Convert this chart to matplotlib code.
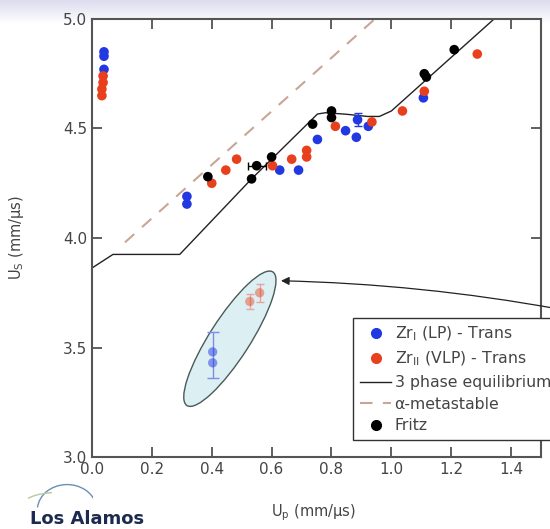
import numpy as np
import matplotlib
matplotlib.use("Agg")
from matplotlib import pyplot as plt
from matplotlib.patches import Ellipse, Arc
from matplotlib.lines import Line2D

# Zr I (LP) - transmitted
blue_x = [0.04, 0.04, 0.04, 0.317, 0.317, 0.627, 0.69, 0.753, 0.847, 0.883, 0.887, 0.923, 1.107]
blue_y = [4.85, 4.83, 4.77, 4.19, 4.155, 4.31, 4.31, 4.45, 4.49, 4.46, 4.54, 4.51, 4.64]

# Zr II (VLP) - transmitted
red_x = [0.037, 0.037, 0.033, 0.033, 0.40, 0.447, 0.483, 0.603, 0.667, 0.717, 0.717, 0.813, 0.935, 1.037, 1.11, 1.287]
red_y = [4.74, 4.71, 4.68, 4.65, 4.25, 4.31, 4.36, 4.33, 4.36, 4.40, 4.37, 4.51, 4.53, 4.58, 4.67, 4.84]

# Fritz
black_x = [0.387, 0.533, 0.55, 0.60, 0.737, 0.80, 0.80, 1.11, 1.117, 1.21]
black_y = [4.28, 4.27, 4.33, 4.37, 4.52, 4.58, 4.55, 4.75, 4.735, 4.86]

# circled (faded) points
circ_blue_x = [0.403, 0.403]
circ_blue_y = [3.48, 3.43]
circ_red_x = [0.527, 0.56]
circ_red_y = [3.71, 3.75]

# 3 phase equilibrium curve
eq_x = [0.0, 0.07, 0.293, 0.533, 0.753, 0.78, 0.85, 0.92, 0.96, 1.0, 1.343]
eq_y = [3.863, 3.925, 3.925, 4.27, 4.566, 4.572, 4.565, 4.555, 4.555, 4.58, 5.0]

# alpha-metastable
meta_x = [0.11, 0.945]
meta_y = [3.98, 5.0]

blue = "#2238e0"
red = "#e8401c"

fig = plt.figure(figsize=(5.5, 5.29), dpi=100)

# light banner at the top of the slide
bg = fig.add_axes([0, 0.955, 1, 0.045], zorder=-5)
grad = np.linspace(0, 1, 50).reshape(-1, 1)
bg.imshow(grad, aspect="auto", cmap=matplotlib.colors.LinearSegmentedColormap.from_list(
    "b", ["#ffffff", "#dcdcee"]), origin="lower", extent=[0, 1, 0, 1])
bg.axis("off")

# faint logo swoosh
logo = fig.add_axes([0.05, 0.03, 0.12, 0.06], zorder=-4)
logo.add_patch(Arc((0.6, 0.1), 0.9, 1.6, theta1=20, theta2=170, color="#6a8fb5", lw=1.0))
logo.add_patch(Arc((0.45, 0.2), 1.1, 0.9, theta1=100, theta2=200, color="#b8c8a0", lw=1.0))
logo.set_xlim(0, 1)
logo.set_ylim(0, 1)
logo.axis("off")

ax = fig.add_axes([0.1673, 0.1361, 0.8164, 0.828])

ax.plot(eq_x, eq_y, color="#222222", lw=1.0, zorder=2)
ax.plot(meta_x, meta_y, color="#c9a596", lw=1.5, dashes=(6, 5), zorder=2)

ell = Ellipse((0.307, 0.27), 0.36, 0.09, angle=58, transform=ax.transAxes,
              facecolor="#dcf0f3", edgecolor="#4a5a58", lw=1.0, zorder=1)
ax.add_patch(ell)

ax.errorbar([0.403], [3.465], yerr=[0.105], fmt="none", ecolor="#7d8ae8", elinewidth=1, capsize=4, zorder=3)
ax.errorbar(circ_red_x, circ_red_y, yerr=[0.035, 0.04], fmt="none", ecolor="#eda0a0", elinewidth=1, capsize=3, zorder=3)
ax.scatter(circ_blue_x, circ_blue_y, s=45, color=blue, alpha=0.5, edgecolors="none", zorder=4)
ax.scatter(circ_red_x, circ_red_y, s=45, color=red, alpha=0.45, edgecolors="none", zorder=4)

ax.errorbar([0.887], [4.54], yerr=[0.03], fmt="none", ecolor=blue, elinewidth=1, capsize=3, zorder=3)
ax.errorbar([0.55], [4.33], xerr=[0.03], fmt="none", ecolor="black", elinewidth=1, capsize=3, zorder=3)

ax.scatter(blue_x, blue_y, s=48, color=blue, edgecolors="none", zorder=5)
ax.scatter(red_x, red_y, s=48, color=red, edgecolors="none", zorder=6)
ax.scatter(black_x, black_y, s=48, color="black", edgecolors="none", zorder=7)

ax.annotate("", xy=(0.622, 3.805), xycoords="data",
            xytext=(1.02, 0.415), textcoords="figure fraction",
            arrowprops=dict(arrowstyle="-|>", color="#222222", lw=0.9,
                            mutation_scale=12, connectionstyle="arc3,rad=0.04"),
            annotation_clip=False, zorder=8)

ax.set_xlim(0, 1.5)
ax.set_ylim(3.0, 5.0)
ax.set_xticks([0.0, 0.2, 0.4, 0.6, 0.8, 1.0, 1.2, 1.4])
ax.set_yticks([3.0, 3.5, 4.0, 4.5, 5.0])
ax.xaxis.set_major_formatter(matplotlib.ticker.FormatStrFormatter("%.1f"))
ax.yaxis.set_major_formatter(matplotlib.ticker.FormatStrFormatter("%.1f"))
ax.tick_params(direction="in", length=7, width=1.2, color="#444444",
               top=True, right=True, labelsize=11, labelcolor="#444444")
for s in ax.spines.values():
    s.set_color("#555555")
    s.set_linewidth(1.5)

fig.text(0.03, 1 - 238 / 529, "U$_\\mathrm{S}$ (mm/µs)", rotation=90, ha="center", va="center",
         fontsize=10.5, color="#444444")
fig.text(0.57, 1 - 513 / 529, "U$_\\mathrm{p}$ (mm/µs)", ha="center", va="center",
         fontsize=10.5, color="#444444")
fig.text(0.055, 0.002, "Los Alamos", ha="left", va="bottom", fontsize=13,
         fontweight="bold", color="#1b2a4e")

handles = [
    Line2D([], [], ls="none", marker="o", color=blue, markersize=7),
    Line2D([], [], ls="none", marker="o", color=red, markersize=7),
    Line2D([], [], color="#222222", lw=1.0),
    Line2D([], [], color="#c9a596", lw=1.5, dashes=(6, 5)),
    Line2D([], [], ls="none", marker="o", color="black", markersize=7),
]
labels = ["Zr$_\\mathrm{I}$ (LP) - Trans", "Zr$_\\mathrm{II}$ (VLP) - Trans",
          "3 phase equilibrium", "α-metastable", "Fritz"]
leg = ax.legend(handles, labels, loc="upper left", bbox_to_anchor=(353 / 550, 1 - 318 / 529),
                bbox_transform=fig.transFigure, fontsize=11.3, frameon=True, fancybox=False,
                framealpha=1, edgecolor="#333333", handlelength=2.0, labelspacing=0.42,
                borderpad=0.45, borderaxespad=0, handletextpad=0.2)
leg.get_frame().set_linewidth(1.0)
for t in leg.get_texts():
    t.set_color("#444444")
leg.set_zorder(10)

plt.savefig("out.png", dpi=100)
